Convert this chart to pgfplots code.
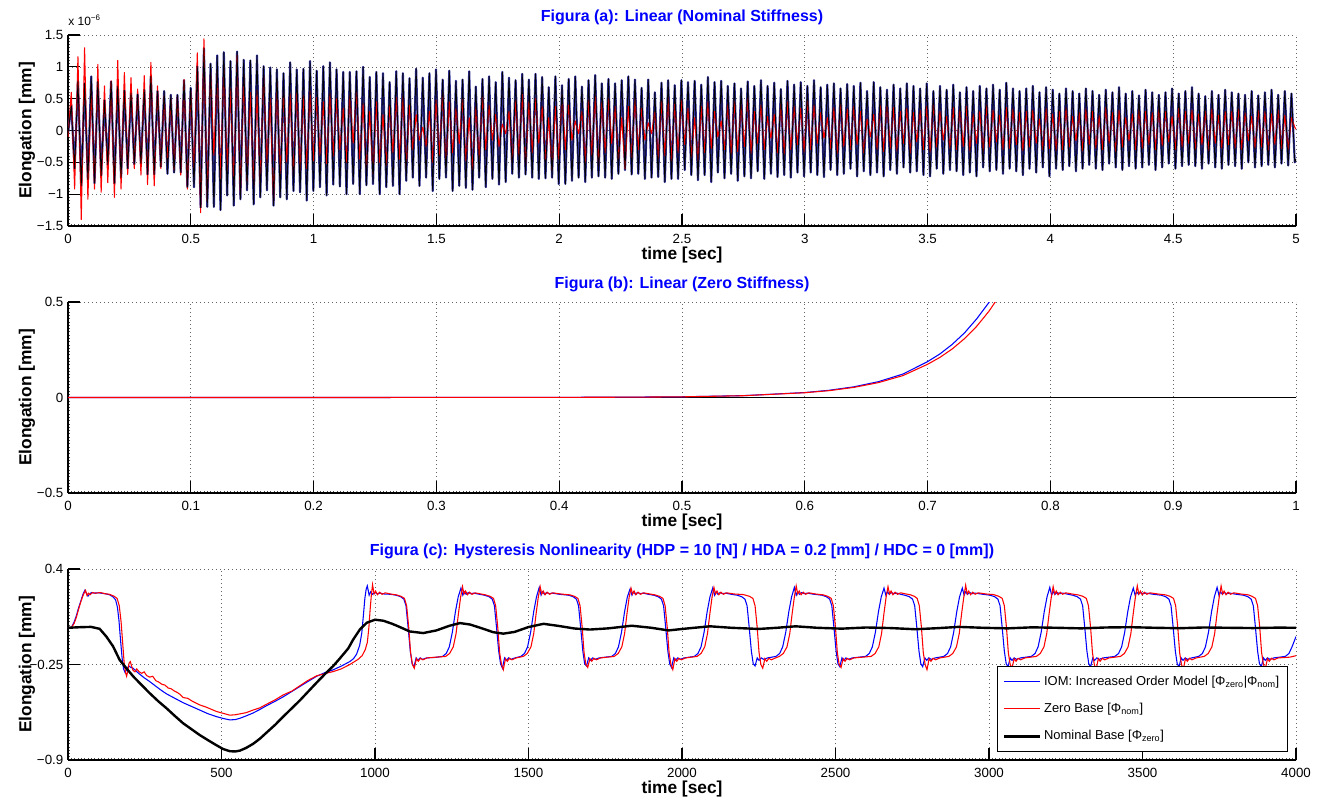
\documentclass[border=0pt]{standalone}
\usepackage{fontspec}
\setmainfont{Liberation Sans}
\usepackage{pgfplots}
\pgfplotsset{compat=1.18}
\usepackage{pgfplotstable}
\definecolor{ttl}{RGB}{0,0,255}
\definecolor{navyhalo}{RGB}{50,50,160}
\definecolor{mblue}{RGB}{0,0,255}
\definecolor{mred}{RGB}{255,0,0}

\pgfplotsset{
  panel/.style={
    scale only axis, width=921pt, height=143.25pt,
    axis x line*=bottom, axis y line*=left,
    axis line style={line width=0.9pt, black},
    tick align=inside, major tick length=9pt, minor tick length=1.6pt,
    major tick style={black, line width=0.8pt},
    minor tick style={black!70, line width=0.4pt},
    grid=major,
    major grid style={black!60, line width=0.5pt, dash pattern=on 0.6pt off 2.4pt},
    scaled ticks=false,
    tick label style={font=\fontsize{10}{12}\selectfont},
    xticklabel style={anchor=center, yshift=-9.5pt},
    title style={at={(axis description cs:0.5,1)}, anchor=center, yshift=7pt,
      font=\bfseries\fontsize{12}{14}\selectfont, text=ttl},
    xlabel style={at={(axis description cs:0.5,0)}, anchor=center, yshift=-21.5pt,
      font=\bfseries\fontsize{13}{15}\selectfont},
    ylabel style={at={(axis description cs:-0.0334,0.5)}, anchor=center,
      font=\bfseries\fontsize{13}{15}\selectfont},
    xlabel={time [sec]}, ylabel={Elongation [mm]},
  }
}

% panel (a): values in units of 1e-6 mm
\pgfplotstableread{
t n r
0 -0.05 -0.10
0.0135 0.39 0.60
0.027 -0.60 -0.92
0.0405 0.78 1.16
0.054 -0.87 -1.40
0.0675 0.74 1.30
0.081 -0.77 -1.08
0.0945 0.85 0.73
0.108 -0.83 -0.92
0.1215 0.77 1.04
0.135 -0.71 -0.97
0.1485 0.48 0.70
0.162 -0.54 -0.82
0.1755 0.77 0.78
0.189 -0.83 -1.05
0.2025 0.70 1.10
0.216 -0.74 -0.92
0.2295 0.63 0.91
0.243 -0.60 -0.69
0.2565 0.59 0.83
0.27 -0.53 -0.60
0.2835 0.57 0.65
0.297 -0.52 -0.70
0.3105 0.64 0.86
0.324 -0.69 -0.85
0.3375 0.85 1.07
0.351 -0.69 -0.87
0.3645 0.62 0.70
0.378 -0.57 -0.60
0.3915 0.62 0.54
0.405 -0.68 -0.50
0.4185 0.56 0.50
0.432 -0.66 -0.62
0.4455 0.56 0.55
0.459 -0.66 -0.70
0.4725 0.79 0.80
0.486 -0.89 -0.92
0.4995 0.67 0.63
0.513 -0.89 -0.70
0.5265 1.01 1.22
0.54 -1.21 -1.29
0.5535 1.29 1.44
0.567 -1.20 -1.11
0.5805 1.05 0.92
0.594 -1.20 -0.39
0.6075 1.18 0.93
0.621 -1.25 -0.76
0.6345 1.23 1.00
0.648 -1.02 -0.63
0.6615 1.09 0.66
0.675 -1.18 -0.89
0.6885 1.24 1.18
0.702 -1.08 -1.03
0.7155 1.11 0.87
0.729 -0.94 -0.79
0.7425 1.10 0.60
0.756 -1.16 -0.89
0.7695 1.18 0.63
0.783 -1.05 -0.84
0.7965 1.01 0.87
0.81 -0.94 -0.55
0.8235 0.99 0.50
0.837 -1.18 -1.13
0.8505 0.96 0.76
0.864 -1.05 -0.73
0.8775 0.90 0.62
0.891 -1.08 -0.50
0.9045 1.07 0.58
0.918 -0.95 -0.71
0.9315 0.96 0.65
0.945 -0.97 -0.63
0.9585 0.97 0.55
0.972 -1.10 -0.60
0.9855 1.09 0.62
0.999 -0.95 -0.48
1.0125 0.94 0.52
1.026 -0.89 -0.39
1.0395 1.01 0.45
1.053 -1.02 -0.52
1.0665 1.07 0.58
1.08 -0.85 -0.40
1.0935 0.96 0.50
1.107 -0.88 -0.30
1.1205 0.92 0.35
1.134 -1.00 -0.50
1.1475 0.92 0.55
1.161 -0.84 -0.20
1.1745 0.93 0.60
1.188 -1.00 -0.45
1.2015 1.00 0.42
1.215 -0.86 -0.62
1.2285 0.84 0.30
1.242 -0.84 -0.68
1.2555 0.92 0.45
1.269 -1.00 -0.50
1.2825 0.90 0.25
1.296 -0.89 -0.55
1.3095 0.76 0.40
1.323 -0.87 -0.35
1.3365 0.93 0.52
1.35 -1.00 -0.45
1.3635 0.90 0.55
1.377 -0.79 -0.60
1.3905 0.82 0.40
1.404 -0.74 -0.30
1.4175 0.97 0.25
1.431 -0.87 -0.15
1.4445 0.83 0.05
1.458 -0.74 -0.25
1.4715 0.90 0.30
1.485 -0.95 -0.50
1.4985 0.96 0.48
1.512 -0.76 -0.40
1.5255 0.80 0.60
1.539 -0.74 -0.55
1.5525 0.94 0.45
1.566 -0.95 -0.35
1.5795 0.78 0.35
1.593 -0.87 -0.20
1.6065 0.80 0.50
1.62 -0.90 -0.48
1.6335 0.93 0.20
1.647 -0.93 -0.62
1.6605 0.69 0.38
1.674 -0.74 -0.45
1.6875 0.81 0.55
1.701 -0.89 -0.30
1.7145 0.85 0.40
1.728 -0.76 -0.15
1.7415 0.76 0.25
1.755 -0.85 -0.25
1.7685 0.92 0.10
1.782 -0.81 -0.05
1.7955 0.83 0.30
1.809 -0.68 -0.50
1.8225 0.79 0.48
1.836 -0.74 -0.40
1.8495 0.89 0.60
1.863 -0.69 -0.55
1.8765 0.80 0.45
1.89 -0.74 -0.35
1.9035 0.89 0.50
1.917 -0.76 -0.20
1.9305 0.84 0.38
1.944 -0.75 -0.48
1.9575 0.68 0.20
1.971 -0.74 -0.62
1.9845 0.85 0.38
1.998 -0.84 -0.45
2.0115 0.71 0.55
2.025 -0.84 -0.30
2.0385 0.81 0.40
2.052 -0.79 -0.15
2.0655 0.85 0.15
2.079 -0.74 -0.05
2.0925 0.69 0.30
2.106 -0.81 -0.50
2.1195 0.79 0.48
2.133 -0.74 -0.40
2.1465 0.87 0.55
2.16 -0.72 -0.55
2.1735 0.74 0.45
2.187 -0.74 -0.35
2.2005 0.81 0.50
2.214 -0.76 -0.20
2.2275 0.74 0.38
2.241 -0.68 -0.48
2.2545 0.79 0.20
2.268 -0.62 -0.60
2.2815 0.85 0.38
2.295 -0.69 -0.45
2.3085 0.80 0.50
2.322 -0.68 -0.30
2.3355 0.67 0.35
2.349 -0.76 -0.15
2.3625 0.80 0.12
2.376 -0.74 -0.05
2.3895 0.60 0.30
2.403 -0.73 -0.45
2.4165 0.75 0.48
2.43 -0.81 -0.40
2.4435 0.79 0.52
2.457 -0.76 -0.50
2.4705 0.71 0.42
2.484 -0.76 -0.35
2.4975 0.79 0.48
2.511 -0.62 -0.22
2.5245 0.76 0.35
2.538 -0.70 -0.42
2.5515 0.78 0.20
2.565 -0.78 -0.48
2.5785 0.72 0.38
2.592 -0.70 -0.35
2.6055 0.84 0.45
2.619 -0.81 -0.28
2.6325 0.76 0.30
2.646 -0.66 -0.10
2.6595 0.78 0.15
2.673 -0.75 -0.30
2.6865 0.70 0.42
2.7 -0.68 -0.38
2.7135 0.74 0.46
2.727 -0.79 -0.33
2.7405 0.66 0.40
2.754 -0.72 -0.25
2.7675 0.77 0.52
2.781 -0.75 -0.36
2.7945 0.70 0.30
2.808 -0.64 -0.20
2.8215 0.79 0.40
2.835 -0.76 -0.30
2.8485 0.70 0.22
2.862 -0.68 -0.12
2.8755 0.75 0.25
2.889 -0.73 -0.35
2.9025 0.65 0.42
2.916 -0.70 -0.37
2.9295 0.78 0.45
2.943 -0.74 -0.30
2.9565 0.72 0.38
2.97 -0.66 -0.22
2.9835 0.76 0.35
2.997 -0.72 -0.34
3.0105 0.70 0.48
3.024 -0.66 -0.30
3.0375 0.79 0.40
3.051 -0.70 -0.20
3.0645 0.68 0.28
3.078 -0.73 -0.12
3.0915 0.72 0.20
3.105 -0.62 -0.28
3.1185 0.74 0.36
3.132 -0.70 -0.36
3.1455 0.66 0.42
3.159 -0.68 -0.25
3.1725 0.73 0.34
3.186 -0.60 -0.30
3.1995 0.70 0.38
3.213 -0.72 -0.22
3.2265 0.75 0.30
3.24 -0.64 -0.35
3.2535 0.62 0.18
3.267 -0.70 -0.10
3.2805 0.76 0.25
3.294 -0.66 -0.30
3.3075 0.68 0.40
3.321 -0.72 -0.33
3.3345 0.64 0.45
3.348 -0.62 -0.28
3.3615 0.72 0.36
3.375 -0.68 -0.32
3.3885 0.66 0.30
3.402 -0.58 -0.20
3.4155 0.74 0.35
3.429 -0.66 -0.36
3.4425 0.70 0.28
3.456 -0.64 -0.18
3.4695 0.66 0.32
3.483 -0.70 -0.30
3.4965 0.74 0.38
3.51 -0.72 -0.34
3.5235 0.62 0.42
3.537 -0.60 -0.26
3.5505 0.70 0.30
3.564 -0.68 -0.15
3.5775 0.64 0.22
3.591 -0.62 -0.28
3.6045 0.72 0.36
3.618 -0.64 -0.30
3.6315 0.60 0.34
3.645 -0.70 -0.25
3.6585 0.68 0.38
3.672 -0.66 -0.32
3.6855 0.62 0.26
3.699 -0.72 -0.20
3.7125 0.70 0.30
3.726 -0.58 -0.34
3.7395 0.66 0.40
3.753 -0.64 -0.26
3.7665 0.72 0.32
3.78 -0.62 -0.18
3.7935 0.64 0.24
3.807 -0.68 -0.30
3.8205 0.75 0.36
3.834 -0.60 -0.28
3.8475 0.66 0.34
3.861 -0.64 -0.22
3.8745 0.62 0.28
3.888 -0.70 -0.32
3.9015 0.66 0.30
3.915 -0.60 -0.26
3.9285 0.70 0.32
3.942 -0.66 -0.20
3.9555 0.60 0.18
3.969 -0.58 -0.30
3.9825 0.68 0.35
3.996 -0.72 -0.28
4.0095 0.64 0.26
4.023 -0.60 -0.32
4.0365 0.58 0.30
4.05 -0.62 -0.30
4.0635 0.66 0.36
4.077 -0.56 -0.26
4.0905 0.62 0.22
4.104 -0.64 -0.16
4.1175 0.58 0.28
4.131 -0.60 -0.32
4.1445 0.66 0.34
4.158 -0.54 -0.22
4.1715 0.62 0.30
4.185 -0.60 -0.28
4.1985 0.56 0.24
4.212 -0.62 -0.30
4.2255 0.64 0.36
4.239 -0.52 -0.20
4.2525 0.60 0.28
4.266 -0.58 -0.34
4.2795 0.68 0.32
4.293 -0.62 -0.26
4.3065 0.58 0.20
4.32 -0.56 -0.16
4.3335 0.62 0.26
4.347 -0.60 -0.30
4.3605 0.55 0.34
4.374 -0.58 -0.28
4.3875 0.64 0.30
4.401 -0.54 -0.22
4.4145 0.60 0.28
4.428 -0.62 -0.30
4.4415 0.56 0.34
4.455 -0.58 -0.24
4.4685 0.60 0.30
4.482 -0.52 -0.18
4.4955 0.66 0.22
4.509 -0.60 -0.30
4.5225 0.58 0.36
4.536 -0.56 -0.26
4.5495 0.62 0.30
4.563 -0.54 -0.20
4.5765 0.68 0.32
4.59 -0.56 -0.30
4.6035 0.58 0.26
4.617 -0.60 -0.22
4.6305 0.54 0.30
4.644 -0.52 -0.32
4.6575 0.62 0.34
4.671 -0.58 -0.20
4.6845 0.56 0.24
4.698 -0.60 -0.28
4.7115 0.64 0.30
4.725 -0.54 -0.22
4.7385 0.60 0.30
4.752 -0.56 -0.28
4.7655 0.58 0.34
4.779 -0.60 -0.30
4.7925 0.56 0.28
4.806 -0.50 -0.16
4.8195 0.62 0.22
4.833 -0.58 -0.28
4.8465 0.55 0.32
4.86 -0.56 -0.26
4.8735 0.60 0.30
4.887 -0.54 -0.32
4.9005 0.64 0.26
4.914 -0.58 -0.22
4.9275 0.56 0.32
4.941 -0.52 -0.28
4.9545 0.62 0.24
4.968 -0.55 -0.30
4.9815 0.58 0.20
4.995 -0.50 0.05
5.0 -0.45 0.02
}\dataA

\begin{document}
\begin{tikzpicture}
\useasboundingbox (-51pt,26.25pt) rectangle (939.75pt,-574.5pt);

% ---------------- (a)
\begin{axis}[panel, name=axA, at={(0pt,0pt)}, anchor=north west,
  xmin=0, xmax=5, ymin=-1.5, ymax=1.5,
  xtick={0,0.5,1,1.5,2,2.5,3,3.5,4,4.5,5},
  xticklabels={0,0.5,1,1.5,2,2.5,3,3.5,4,4.5,5},
  ytick={-1.5,-1,-0.5,0,0.5,1,1.5},
  yticklabels={−1.5,−1,−0.5,0,0.5,1,1.5},
  minor x tick num=36, minor y tick num=9,
  title={Figura (a): Linear (Nominal Stiffness)}]
\addplot[navyhalo, line width=1.6pt, line join=round] table[x=t,y=n]{\dataA};
\addplot[mred, line width=0.8pt, line join=round] table[x=t,y=r]{\dataA};
\addplot[black, line width=0.6pt, line join=round] table[x=t,y=n]{\dataA};
\end{axis}
\node[anchor=base west, font=\fontsize{9}{11}\selectfont, inner sep=0pt]
  at ([yshift=7pt]axA.north west) {x 10\textsuperscript{−6}};

% ---------------- (b)
\begin{axis}[panel, name=axB, at={(0pt,-200.25pt)}, anchor=north west,
  xmin=0, xmax=1, ymin=-0.5, ymax=0.5,
  xtick={0,0.1,0.2,0.3,0.4,0.5,0.6,0.7,0.8,0.9,1},
  xticklabels={0,0.1,0.2,0.3,0.4,0.5,0.6,0.7,0.8,0.9,1},
  ytick={-0.5,0,0.5}, yticklabels={−0.5,0,0.5},
  minor x tick num=36, minor y tick num=28,
  title={Figura (b): Linear (Zero Stiffness)}]
\addplot[black, line width=0.8pt] coordinates {(0,0) (1,0)};
\addplot[color=mblue, line width=0.8pt] coordinates {
(0,0) (0.1,0.00005) (0.2,0.0001) (0.3,0.0003) (0.35,0.0005) (0.4,0.0009)
(0.45,0.0017) (0.5,0.0037) (0.55,0.0098) (0.6,0.026) (0.62,0.038) (0.64,0.056)
(0.66,0.083) (0.68,0.123) (0.70,0.188) (0.71,0.228) (0.72,0.278) (0.73,0.338)
(0.74,0.412) (0.75,0.498) (0.76,0.60)};
\addplot[color=mred, line width=0.8pt] coordinates {
(0,0) (0.1,0.00005) (0.2,0.0001) (0.3,0.0003) (0.35,0.0005) (0.4,0.0009)
(0.45,0.0016) (0.5,0.0035) (0.55,0.0094) (0.6,0.025) (0.62,0.036) (0.64,0.053)
(0.66,0.078) (0.68,0.115) (0.70,0.174) (0.71,0.210) (0.72,0.254) (0.73,0.308)
(0.74,0.373) (0.75,0.452) (0.76,0.547) (0.77,0.66)};
\end{axis}

% ---------------- (c)
\begin{axis}[panel, name=axC, at={(0pt,-400.5pt)}, anchor=north west,
  xmin=0, xmax=4000, ymin=-0.9, ymax=0.4,
  xtick={0,500,1000,1500,2000,2500,3000,3500,4000},
  xticklabels={0,500,1000,1500,2000,2500,3000,3500,4000},
  ytick={-0.9,-0.25,0.4}, yticklabels={−0.9,−0.25,0.4},
  minor x tick num=45, minor y tick num=28,
  title={Figura (c): Hysteresis Nonlinearity (HDP = 10 [N] / HDA = 0.2 [mm] / HDC = 0 [mm])},
  legend cell align=left,
  legend image code/.code={\draw[#1] (0pt,0pt) -- (27pt,0pt);},
  legend style={at={(axis description cs:1,0)}, anchor=south east,
    xshift=-6pt, yshift=6pt, fill=white, line width=1pt,
    font=\fontsize{9.7}{11.5}\selectfont, row sep=8pt, inner xsep=4pt, inner ysep=5pt}]
\addplot[color=mblue, line width=0.8pt] coordinates {
(0,0) (11,0.0) (20,0.04) (27,0.08) (35,0.14) (43,0.19) (50,0.235) (55,0.255)
(60,0.235) (65,0.215) (70,0.228) (76,0.24) (85,0.236) (100,0.238) (120,0.232)
(135,0.225) (147,0.21) (155,0.19) (161,0.14) (166,0.05) (171,-0.08) (176,-0.2)
(181,-0.28) (186,-0.305) (192,-0.28) (198,-0.26) (205,-0.27) (212,-0.275)
(230,-0.31) (248,-0.34) (266,-0.366) (300,-0.42) (321,-0.45) (348,-0.48)
(375,-0.51) (402,-0.535) (429,-0.56) (456,-0.585) (484,-0.605) (505,-0.617)
(527,-0.627) (545,-0.625) (560,-0.616) (580,-0.6) (603,-0.58) (625,-0.556)
(647,-0.53) (675,-0.5) (701,-0.47) (728,-0.435) (755,-0.40) (782,-0.365)
(810,-0.33) (837,-0.305) (864,-0.286) (891,-0.26) (918,-0.23) (930,-0.21)
(940,-0.18) (950,-0.12) (957,-0.035) (962,0.08) (967,0.2) (971,0.26) (975,0.285)
(981,0.222) (986,0.245) (992,0.228) (999,0.24) (1007,0.232) (1017,0.236)
(1030,0.23) (1050,0.228) (1068,0.222) (1083,0.212) (1094,0.195) (1101,0.15)
(1108,0.0) (1115,-0.16) (1121,-0.245) (1127,-0.265) (1134,-0.205) (1140,-0.222)
(1147,-0.205) (1155,-0.215) (1168,-0.205) (1195,-0.202)
(1220,-0.195) (1232,-0.175) (1242,-0.13) (1252,-0.03) (1262,0.11) (1271,0.21) (1280,0.27)
(1286,0.222) (1291,0.245) (1297,0.228) (1304,0.24) (1312,0.232) (1322,0.236)
(1340,0.228) (1356,0.222) (1371,0.212) (1382,0.195) (1389,0.15) (1396,0.0)
(1403,-0.16) (1409,-0.245) (1415,-0.275) (1422,-0.205) (1428,-0.222) (1435,-0.205)
(1443,-0.215) (1456,-0.205)
(1475,-0.195) (1487,-0.175) (1497,-0.13) (1507,-0.03) (1517,0.11) (1526,0.21) (1535,0.275)
(1541,0.222) (1546,0.245) (1552,0.228) (1559,0.24) (1567,0.232) (1577,0.236)
(1600,0.228) (1630,0.222) (1645,0.212) (1656,0.195) (1663,0.15) (1670,0.0)
(1677,-0.16) (1683,-0.245) (1689,-0.26) (1696,-0.205) (1702,-0.222) (1709,-0.205)
(1717,-0.215) (1730,-0.205)
(1771,-0.195) (1783,-0.175) (1793,-0.13) (1803,-0.03) (1813,0.11) (1822,0.21) (1831,0.265)
(1837,0.222) (1842,0.245) (1848,0.228) (1855,0.24) (1863,0.232) (1873,0.236)
(1890,0.228) (1907,0.222) (1922,0.212) (1933,0.195) (1940,0.15) (1947,0.0)
(1954,-0.16) (1960,-0.245) (1966,-0.27) (1973,-0.205) (1979,-0.222) (1986,-0.205)
(1994,-0.215) (2007,-0.205)
(2040,-0.195) (2052,-0.175) (2062,-0.13) (2072,-0.03) (2082,0.11) (2091,0.21) (2100,0.27)
(2106,0.222) (2111,0.245) (2117,0.228) (2124,0.24) (2132,0.232) (2142,0.236)
(2160,0.228) (2179,0.222) (2194,0.212) (2205,0.195) (2212,0.15) (2219,0.0)
(2226,-0.16) (2232,-0.245) (2238,-0.26) (2245,-0.205) (2251,-0.222) (2258,-0.205)
(2266,-0.215) (2279,-0.205)
(2306,-0.195) (2318,-0.175) (2328,-0.13) (2338,-0.03) (2348,0.11) (2357,0.21) (2366,0.275)
(2372,0.222) (2377,0.245) (2383,0.228) (2390,0.24) (2398,0.232) (2408,0.236)
(2430,0.228) (2455,0.222) (2470,0.212) (2481,0.195) (2488,0.15) (2495,0.0)
(2502,-0.16) (2508,-0.245) (2514,-0.265) (2521,-0.205) (2527,-0.222) (2534,-0.205)
(2542,-0.215) (2555,-0.205)
(2598,-0.195) (2610,-0.175) (2620,-0.13) (2630,-0.03) (2640,0.11) (2649,0.21) (2658,0.27)
(2664,0.222) (2669,0.245) (2675,0.228) (2682,0.24) (2690,0.232) (2700,0.236)
(2712,0.228) (2725,0.222) (2740,0.212) (2751,0.195) (2758,0.15) (2765,0.0)
(2772,-0.16) (2778,-0.245) (2784,-0.265) (2791,-0.205) (2797,-0.222) (2804,-0.205)
(2812,-0.215) (2825,-0.205)
(2853,-0.195) (2865,-0.175) (2875,-0.13) (2885,-0.03) (2895,0.11) (2904,0.21) (2913,0.27)
(2919,0.222) (2924,0.245) (2930,0.228) (2937,0.24) (2945,0.232) (2955,0.236)
(2980,0.228) (3003,0.222) (3018,0.212) (3029,0.195) (3036,0.15) (3043,0.0)
(3050,-0.16) (3056,-0.245) (3062,-0.265) (3069,-0.205) (3075,-0.222) (3082,-0.205)
(3090,-0.215) (3103,-0.205)
(3138,-0.195) (3150,-0.175) (3160,-0.13) (3170,-0.03) (3180,0.11) (3189,0.21) (3198,0.275)
(3204,0.222) (3209,0.245) (3215,0.228) (3222,0.24) (3230,0.232) (3240,0.236)
(3258,0.228) (3272,0.222) (3287,0.212) (3298,0.195) (3305,0.15) (3312,0.0)
(3319,-0.16) (3325,-0.245) (3331,-0.265) (3338,-0.205) (3344,-0.222) (3351,-0.205)
(3359,-0.215) (3372,-0.205)
(3410,-0.195) (3422,-0.175) (3432,-0.13) (3442,-0.03) (3452,0.11) (3461,0.21) (3470,0.27)
(3476,0.222) (3481,0.245) (3487,0.228) (3494,0.24) (3502,0.232) (3512,0.236)
(3535,0.228) (3560,0.222) (3575,0.212) (3586,0.195) (3593,0.15) (3600,0.0)
(3607,-0.16) (3613,-0.245) (3619,-0.265) (3626,-0.205) (3632,-0.222) (3639,-0.205)
(3647,-0.215) (3660,-0.205)
(3683,-0.195) (3695,-0.175) (3705,-0.13) (3715,-0.03) (3725,0.11) (3734,0.21) (3743,0.275)
(3749,0.222) (3754,0.245) (3760,0.228) (3767,0.24) (3775,0.232) (3785,0.236)
(3805,0.228) (3828,0.222) (3843,0.212) (3854,0.195) (3861,0.15) (3868,0.0)
(3875,-0.16) (3881,-0.245) (3887,-0.265) (3894,-0.205) (3900,-0.222) (3907,-0.205)
(3915,-0.215) (3928,-0.205)
(3965,-0.195) (3977,-0.175) (3987,-0.13) (4000,-0.06)};
\addlegendentry{IOM: Increased Order Model [Φ\textsubscript{zero}|Φ\textsubscript{nom}]}
\addplot[color=mred, line width=0.8pt] coordinates {
(0,0) (11,0.0) (20,0.03) (27,0.07) (35,0.13) (43,0.185) (50,0.225) (57,0.255)
(62,0.22) (67,0.235) (72,0.225) (80,0.24) (90,0.235) (105,0.24) (120,0.232)
(135,0.228) (150,0.215) (160,0.2) (167,0.15) (173,0.04) (178,-0.1) (183,-0.24)
(188,-0.31) (191,-0.33) (195,-0.29) (199,-0.24) (203,-0.23) (207,-0.26) (212,-0.29)
(218,-0.3) (224,-0.28) (232,-0.3) (240,-0.31) (248,-0.3) (256,-0.325) (266,-0.336)
(276,-0.33) (286,-0.36) (296,-0.37) (306,-0.385) (316,-0.39) (326,-0.41)
(336,-0.415) (346,-0.43) (356,-0.44) (366,-0.455) (375,-0.475) (390,-0.48)
(405,-0.5) (429,-0.525) (450,-0.54) (484,-0.57) (510,-0.585) (527,-0.595)
(545,-0.592) (560,-0.586) (580,-0.578) (603,-0.56) (625,-0.545) (647,-0.52)
(675,-0.49) (701,-0.457) (730,-0.43) (755,-0.395) (780,-0.36) (810,-0.327)
(840,-0.31) (864,-0.298) (890,-0.28) (918,-0.25) (945,-0.215) (958,-0.19)
(968,-0.15) (975,-0.10) (980,0.0) (984,0.12) (988,0.22) (992,0.293)
(997,0.23) (1002,0.25) (1008,0.225) (1015,0.242) (1023,0.228) (1033,0.238)
(1050,0.23) (1070,0.224) (1085,0.214) (1096,0.2) (1103,0.15) (1110,0.0)
(1116,-0.17) (1122,-0.25) (1128,-0.275) (1135,-0.21) (1141,-0.228) (1148,-0.208)
(1156,-0.218) (1170,-0.205)
(1230,-0.195) (1243,-0.175) (1255,-0.13) (1264,-0.04) (1272,0.1) (1279,0.21) (1285,0.28)
(1290,0.23) (1295,0.25) (1301,0.225) (1308,0.242) (1316,0.228) (1326,0.238)
(1345,0.23) (1360,0.224) (1375,0.214) (1386,0.2) (1393,0.15) (1400,0.0)
(1406,-0.17) (1412,-0.25) (1418,-0.285) (1425,-0.21) (1431,-0.228) (1438,-0.208)
(1446,-0.218) (1460,-0.205)
(1483,-0.195) (1496,-0.175) (1508,-0.13) (1517,-0.04) (1525,0.1) (1532,0.21) (1538,0.28)
(1543,0.23) (1548,0.25) (1554,0.225) (1561,0.242) (1569,0.228) (1579,0.238)
(1605,0.23) (1635,0.224) (1650,0.214) (1661,0.2) (1668,0.15) (1675,0.0)
(1681,-0.17) (1687,-0.25) (1693,-0.27) (1700,-0.21) (1706,-0.228) (1713,-0.208)
(1721,-0.218) (1735,-0.205)
(1779,-0.195) (1792,-0.175) (1804,-0.13) (1813,-0.04) (1821,0.1) (1828,0.21) (1834,0.27)
(1839,0.23) (1844,0.25) (1850,0.225) (1857,0.242) (1865,0.228) (1875,0.238)
(1895,0.23) (1912,0.224) (1927,0.214) (1938,0.2) (1945,0.15) (1952,0.0)
(1958,-0.17) (1964,-0.25) (1970,-0.285) (1977,-0.21) (1983,-0.228) (1990,-0.208)
(1998,-0.218) (2012,-0.205)
(2049,-0.195) (2062,-0.175) (2074,-0.13) (2083,-0.04) (2091,0.1) (2098,0.21) (2104,0.275)
(2109,0.23) (2114,0.25) (2120,0.225) (2127,0.242) (2135,0.228) (2145,0.238)
(2170,0.23) (2200,0.226) (2220,0.214) (2231,0.2) (2238,0.15) (2245,0.0)
(2251,-0.17) (2257,-0.25) (2263,-0.275) (2270,-0.21) (2276,-0.228) (2283,-0.208)
(2291,-0.218) (2305,-0.205)
(2317,-0.195) (2330,-0.175) (2342,-0.13) (2351,-0.04) (2359,0.1) (2366,0.21) (2372,0.285)
(2377,0.23) (2382,0.25) (2388,0.225) (2395,0.242) (2403,0.228) (2413,0.238)
(2435,0.23) (2460,0.224) (2475,0.214) (2486,0.2) (2493,0.15) (2500,0.0)
(2506,-0.17) (2512,-0.25) (2518,-0.27) (2525,-0.21) (2531,-0.228) (2538,-0.208)
(2546,-0.218) (2560,-0.205)
(2616,-0.195) (2629,-0.175) (2641,-0.13) (2650,-0.04) (2658,0.1) (2665,0.21) (2671,0.28)
(2676,0.23) (2681,0.25) (2687,0.225) (2694,0.242) (2702,0.228) (2712,0.238)
(2730,0.23) (2745,0.224) (2757,0.214) (2766,0.2) (2773,0.15) (2780,0.0)
(2786,-0.17) (2792,-0.25) (2798,-0.285) (2805,-0.21) (2811,-0.228) (2818,-0.208)
(2826,-0.218) (2840,-0.205)
(2869,-0.195) (2882,-0.175) (2894,-0.13) (2903,-0.04) (2911,0.1) (2918,0.21) (2924,0.29)
(2929,0.23) (2934,0.25) (2940,0.225) (2947,0.242) (2955,0.228) (2965,0.238)
(2990,0.23) (3015,0.226) (3032,0.214) (3043,0.2) (3050,0.15) (3057,0.0)
(3063,-0.17) (3069,-0.25) (3075,-0.275) (3082,-0.21) (3088,-0.228) (3095,-0.208)
(3103,-0.218) (3117,-0.205)
(3154,-0.195) (3167,-0.175) (3179,-0.13) (3188,-0.04) (3196,0.1) (3203,0.21) (3209,0.28)
(3214,0.23) (3219,0.25) (3225,0.225) (3232,0.242) (3240,0.228) (3250,0.238)
(3270,0.23) (3290,0.224) (3306,0.214) (3317,0.2) (3324,0.15) (3331,0.0)
(3337,-0.17) (3343,-0.25) (3349,-0.285) (3356,-0.21) (3362,-0.228) (3369,-0.208)
(3377,-0.218) (3391,-0.205)
(3428,-0.195) (3441,-0.175) (3453,-0.13) (3462,-0.04) (3470,0.1) (3477,0.21) (3483,0.285)
(3488,0.23) (3493,0.25) (3499,0.225) (3506,0.242) (3514,0.228) (3524,0.238)
(3550,0.23) (3575,0.224) (3590,0.214) (3601,0.2) (3608,0.15) (3615,0.0)
(3621,-0.17) (3627,-0.25) (3633,-0.28) (3640,-0.21) (3646,-0.228) (3653,-0.208)
(3661,-0.218) (3675,-0.205)
(3701,-0.195) (3714,-0.175) (3726,-0.13) (3735,-0.04) (3743,0.1) (3750,0.21) (3756,0.285)
(3761,0.23) (3766,0.25) (3772,0.225) (3779,0.242) (3787,0.228) (3797,0.238)
(3820,0.23) (3845,0.224) (3857,0.214) (3868,0.2) (3875,0.15) (3882,0.0)
(3888,-0.17) (3894,-0.25) (3900,-0.28) (3907,-0.21) (3913,-0.228) (3920,-0.208)
(3928,-0.218) (3942,-0.205) (3980,-0.2) (4000,-0.19)};
\addlegendentry{Zero Base [Φ\textsubscript{nom}]}
\addplot[color=black, line width=1.8pt] coordinates {
(0,0.0) (40,0.004) (75,0.006) (103,-0.007) (125,-0.06) (147,-0.127) (168,-0.218)
(190,-0.275) (212,-0.33) (240,-0.39) (266,-0.445) (294,-0.5) (321,-0.548)
(348,-0.6) (375,-0.65) (402,-0.69) (429,-0.73) (456,-0.765) (484,-0.80)
(505,-0.825) (527,-0.84) (545,-0.842) (560,-0.836) (580,-0.818) (603,-0.79)
(625,-0.755) (647,-0.713) (675,-0.66) (701,-0.605) (728,-0.55) (755,-0.495)
(782,-0.435) (810,-0.373) (837,-0.315) (864,-0.26) (885,-0.21) (897,-0.18)
(913,-0.14) (929,-0.08) (951,-0.011) (973,0.034) (1000,0.055) (1027,0.048)
(1055,0.028) (1081,0.005) (1113,-0.025) (1157,-0.036) (1200,-0.018) (1243,0.014)
(1277,0.032) (1310,0.022) (1350,-0.005) (1385,-0.03) (1418,-0.04) (1455,-0.028)
(1500,0.005) (1549,0.027) (1600,0.012) (1650,-0.005) (1700,-0.012) (1760,-0.004)
(1836,0.014) (1900,0.0) (1956,-0.018) (2020,-0.004) (2091,0.01) (2160,0.0)
(2250,-0.008) (2310,0.0) (2370,0.01) (2440,0.0) (2520,-0.006) (2600,0.002)
(2680,-0.002) (2760,-0.01) (2830,-0.003) (2900,0.006) (2980,0.0) (3060,-0.004)
(3140,0.003) (3220,0.0) (3300,-0.004) (3380,0.002) (3460,0.004) (3540,0.0)
(3620,-0.003) (3700,0.002) (3780,0.0) (3860,-0.002) (3940,0.001) (4000,0.0)};
\addlegendentry{Nominal Base [Φ\textsubscript{zero}]}
\end{axis}
\end{tikzpicture}
\end{document}
